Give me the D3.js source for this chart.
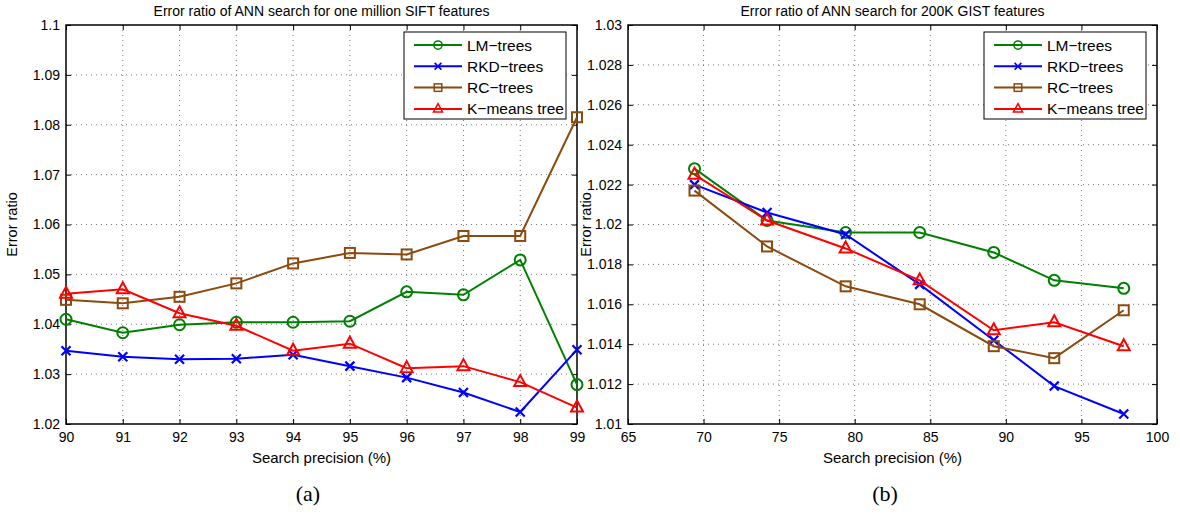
<!DOCTYPE html>
<html><head><meta charset="utf-8">
<script src="https://cdn.jsdelivr.net/npm/d3@7"></script>
<style>body{margin:0;background:#fff}svg{display:block}</style>
</head><body>
<svg id="c" width="1180" height="520"></svg>
<script>
const seriesNames = ["LM\u2212trees","RKD\u2212trees","RC\u2212trees","K\u2212means tree"];
const seriesColors = ["#008000","#0000ff","#8c4a0f","#ff0000"];
const seriesMarkers = ["circle","x","square","triangle"];

// Panel (a)
const xA = [90,91,92,93,94,95,96,97,98,99];
const lmA  = [1.0410,1.0383,1.0399,1.0404,1.0404,1.0406,1.0465,1.0459,1.0529,1.0279];
const rkdA = [1.0347,1.0335,1.0330,1.0331,1.0339,1.0316,1.0293,1.0263,1.0224,1.0349];
const rcA  = [1.0449,1.0442,1.0455,1.0482,1.0522,1.0543,1.0540,1.0577,1.0577,1.0815];
const kmA  = [1.0461,1.0470,1.0422,1.0397,1.0347,1.0361,1.0312,1.0316,1.0284,1.0233];
const xTicksA = [90,91,92,93,94,95,96,97,98,99];
const yTicksA = [1.02,1.03,1.04,1.05,1.06,1.07,1.08,1.09,1.1];

// Panel (b)
const xB = [69.4,74.2,79.4,84.3,89.2,93.2,97.8];
const lmB  = [1.0228,1.0202,1.0196,1.0196,1.0186,1.0172,1.0168];
const rkdB = [1.0220,1.0206,1.0195,1.0170,1.0142,1.0119,1.0105];
const rcB  = [1.0217,1.0189,1.0169,1.0160,1.0139,1.0133,1.0157];
const kmB  = [1.0225,1.0202,1.0188,1.0172,1.0147,1.0151,1.0139];
const xTicksB = [65,70,75,80,85,90,95,100];
const yTicksB = [1.01,1.012,1.014,1.016,1.018,1.02,1.022,1.024,1.026,1.028,1.03];

const svg = d3.select("#c");
const FONT = "Liberation Sans, Arial, sans-serif";

function marker(g, type, x, y, color){
  if(type==="circle"){
    g.append("circle").attr("cx",x).attr("cy",y).attr("r",5.5)
      .attr("fill","none").attr("stroke",color).attr("stroke-width",2);
  } else if(type==="x"){
    const s=4.5;
    g.append("path").attr("d",`M${x-s},${y-s}L${x+s},${y+s}M${x-s},${y+s}L${x+s},${y-s}`)
      .attr("stroke",color).attr("stroke-width",2.2).attr("fill","none");
  } else if(type==="square"){
    const s=5;
    g.append("rect").attr("x",x-s).attr("y",y-s).attr("width",2*s).attr("height",2*s)
      .attr("fill","none").attr("stroke",color).attr("stroke-width",2);
  } else {
    const s=6;
    g.append("path").attr("d",`M${x},${y-s-1}L${x+s},${y+s-2}L${x-s},${y+s-2}Z`)
      .attr("fill","none").attr("stroke",color).attr("stroke-width",2);
  }
}

function panel(cfg){
  const {x0,x1,y0,y1,xd,yd,xt,yt,xs,series,title,yfmt,legX,caption,capX,ylabX} = cfg;
  const g = svg.append("g");
  const x = d3.scaleLinear().domain(xd).range([x0,x1]);
  const y = d3.scaleLinear().domain(yd).range([y1,y0]);

  g.append("g").selectAll("line").data(xt.slice(1,-1)).join("line")
    .attr("x1",d=>x(d)).attr("x2",d=>x(d)).attr("y1",y0).attr("y2",y1)
    .attr("stroke","#555").attr("stroke-width",0.8).attr("stroke-dasharray","1,4");
  g.append("g").selectAll("line").data(yt.slice(1,-1)).join("line")
    .attr("y1",d=>y(d)).attr("y2",d=>y(d)).attr("x1",x0).attr("x2",x1)
    .attr("stroke","#555").attr("stroke-width",0.8).attr("stroke-dasharray","1,4");

  const axB = g.append("g").attr("transform",`translate(0,${y1})`)
    .call(d3.axisBottom(x).tickValues(xt).tickSizeInner(-5).tickSizeOuter(0).tickPadding(8).tickFormat(d3.format("d")));
  const axT = g.append("g").attr("transform",`translate(0,${y0})`)
    .call(d3.axisTop(x).tickValues(xt).tickSizeInner(-5).tickSizeOuter(0).tickFormat(""));
  const axL = g.append("g").attr("transform",`translate(${x0},0)`)
    .call(d3.axisLeft(y).tickValues(yt).tickSizeInner(-5).tickSizeOuter(0).tickPadding(6).tickFormat(yfmt));
  const axR = g.append("g").attr("transform",`translate(${x1},0)`)
    .call(d3.axisRight(y).tickValues(yt).tickSizeInner(-5).tickSizeOuter(0).tickFormat(""));
  [axB,axT,axL,axR].forEach(a=>{
    a.select(".domain").remove();
    a.selectAll("line").attr("stroke","#000").attr("stroke-width",1);
    a.selectAll("text").attr("font-family",FONT).attr("font-size",14).attr("fill","#000");
  });
  g.append("rect").attr("x",x0).attr("y",y0).attr("width",x1-x0).attr("height",y1-y0)
    .attr("fill","none").attr("stroke","#000").attr("stroke-width",1.5);

  const line = d3.line().x(d=>x(d[0])).y(d=>y(d[1]));
  series.forEach((vals,i)=>{
    const pts = xs.map((v,j)=>[v,vals[j]]);
    g.append("path").datum(pts).attr("d",line).attr("fill","none")
      .attr("stroke",seriesColors[i]).attr("stroke-width",2);
    const mg = g.append("g");
    pts.forEach(p=>marker(mg,seriesMarkers[i],x(p[0]),y(p[1]),seriesColors[i]));
  });

  g.append("text").attr("x",(x0+x1)/2).attr("y",y0-9).attr("text-anchor","middle")
    .attr("font-family",FONT).attr("font-size",14).text(title);
  g.append("text").attr("x",(x0+x1)/2).attr("y",y1+39).attr("text-anchor","middle")
    .attr("font-family",FONT).attr("font-size",15).text("Search precision (%)");
  g.append("text").attr("transform",`translate(${ylabX},${(y0+y1)/2}) rotate(-90)`)
    .attr("text-anchor","middle").attr("font-family",FONT).attr("font-size",14.5).text("Error ratio");
  g.append("text").attr("x",capX).attr("y",501).attr("text-anchor","middle")
    .attr("font-family","Liberation Serif, DejaVu Serif, serif").attr("font-size",22).text(caption);

  const lx = legX, ly = 32, lw = 162, lh = 87;
  const lg = g.append("g");
  lg.append("rect").attr("x",lx).attr("y",ly).attr("width",lw).attr("height",lh)
    .attr("fill","#fff").attr("stroke","#000").attr("stroke-width",1);
  seriesNames.forEach((n,i)=>{
    const yy = ly + 13 + i*21.3;
    lg.append("line").attr("x1",lx+10).attr("x2",lx+58).attr("y1",yy).attr("y2",yy)
      .attr("stroke",seriesColors[i]).attr("stroke-width",2);
    const mk = lg.append("g");
    marker(mk, seriesMarkers[i], lx+34, yy, seriesColors[i]);
    mk.selectAll("*").attr("transform",`translate(${lx+34},${yy}) scale(0.75) translate(${-(lx+34)},${-yy})`);
    lg.append("text").attr("x",lx+63).attr("y",yy+5.5).attr("font-family",FONT).attr("font-size",15.5).text(n);
  });
}

panel({x0:66,x1:577,y0:25,y1:424,xd:[90,99],yd:[1.02,1.1],xt:xTicksA,yt:yTicksA,xs:xA,
  series:[lmA,rkdA,rcA,kmA],title:"Error ratio of ANN search for one million SIFT features",
  yfmt:d=>d===1.1?"1.1":d3.format(".2f")(d),legX:404,caption:"(a)",capX:308,ylabX:17});
panel({x0:628,x1:1157,y0:25,y1:424,xd:[65,100],yd:[1.01,1.03],xt:xTicksB,yt:yTicksB,xs:xB,
  series:[lmB,rkdB,rcB,kmB],title:"Error ratio of ANN search for 200K GIST features",
  yfmt:d=>d3.format(".3~f")(d),legX:984,caption:"(b)",capX:885,ylabX:591});
</script>
</body></html>
